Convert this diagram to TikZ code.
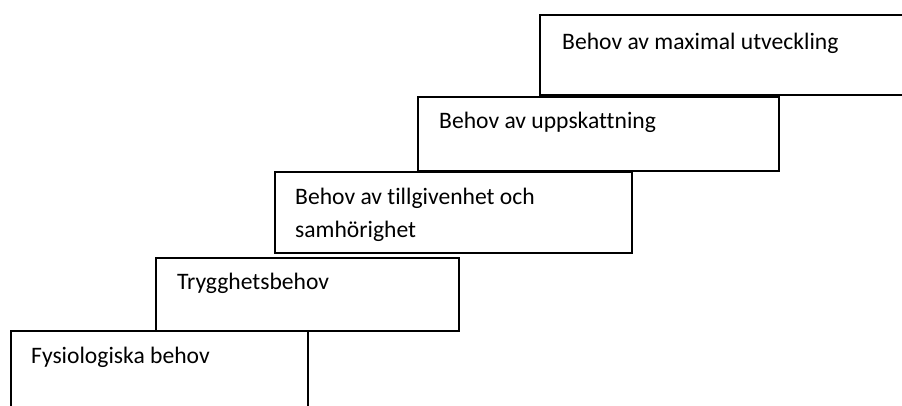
\documentclass[tikz,border=0pt]{standalone}
\usepackage{fontspec}
\setmainfont{Carlito}[Ligatures=NoCommon]
\usepackage{tikz}
\usetikzlibrary{positioning}

\begin{document}
\begin{tikzpicture}[
    x=1pt, y=-1pt,
    stair/.style={draw, line width=2pt, inner sep=0pt, anchor=north west},
    steptext/.style={anchor=base west, inner sep=0pt, align=left,
        font=\fontsize{23.6}{33}\selectfont}
]
\useasboundingbox (0,0) rectangle (902,405);
\clip (0,0) rectangle (902,405);

% trappstegen
\node[stair, minimum width=297pt, minimum height=100pt] (s1) at (10,330) {};
\node[stair, minimum width=303pt, minimum height=73pt] (s2) at (155,257) {};
\node[stair, minimum width=357pt, minimum height=81pt] (s3) at (274,171) {};
\node[stair, minimum width=361pt, minimum height=74pt] (s4) at (417,96) {};
\node[stair, minimum width=390pt, minimum height=80pt] (s5) at (539,14) {};

% texter (base = sista raden)
\node[steptext] (t1) at ([shift={(21,33)}]s1.north west) {Fysiologiska behov};
\node[steptext] (t2) at ([shift={(22,32)}]s2.north west) {Trygghetsbehov};
\node[steptext] (t3) at ([shift={(21,66)}]s3.north west) {Behov av tillgivenhet och\\samhörighet};
\node[steptext] (t4) at ([shift={(22,32)}]s4.north west) {Behov av uppskattning};
\node[steptext] (t5) at ([shift={(23,35)}]s5.north west) {Behov av maximal utveckling};

\end{tikzpicture}
\end{document}
